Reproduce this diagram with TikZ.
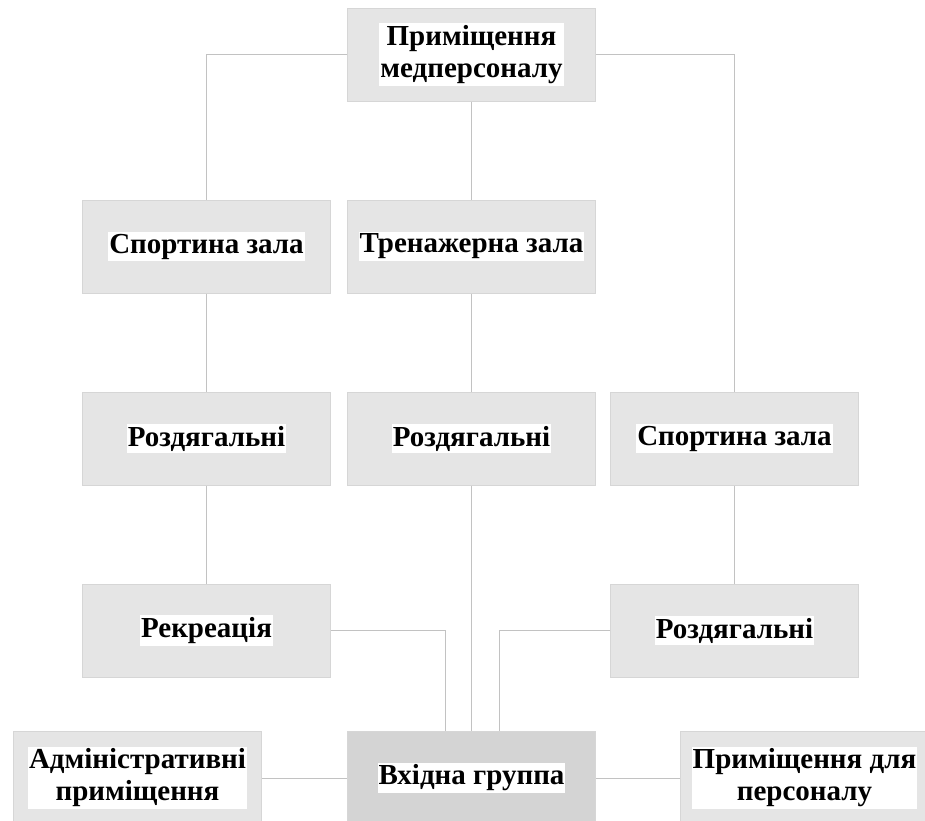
\documentclass[tikz,border=0pt]{standalone}
\usepackage{fontspec}
\setmainfont{Liberation Serif}
\usepackage{xcolor}
\usepackage{tikz}
\usetikzlibrary{positioning}

\begin{document}
\begin{tikzpicture}[
        x=1pt, y=-1pt,
        node distance=98pt and 16pt,
        room/.style={rectangle, draw=black!16, fill=#1, line width=1pt, minimum width=248pt, minimum height=93pt, inner sep=0pt},
        room/.default=black!10,
        tag/.style={fill=white, inner xsep=1pt, inner ysep=2pt, align=center, font=\bfseries\fontsize{29}{32}\selectfont},
        link/.style={draw=black!24, line width=1pt}
    ]
        \useasboundingbox (0,0) rectangle (925,820);
        \clip (0,0) rectangle (925,820);

        \node[room, label={[tag]center:{Приміщення\\медперсоналу}}] (staffmed) at (471.5,54.5) {};
        \node[room, label={[tag]center:Тренажерна зала}, below=of staffmed] (trainer) {};
        \node[room, label={[tag]center:Спортина зала}, left=of trainer] (sportA) {};
        \node[room, label={[tag]center:Роздягальні}, below=of trainer] (dressB) {};
        \node[room, label={[tag]center:Роздягальні}, below=of sportA] (dressA) {};
        \node[room, label={[tag]center:Спортина зала}, right=14pt of dressB] (sportB) {};
        \node[room, label={[tag]center:Рекреація}, below=of dressA] (recr) {};
        \node[room, label={[tag]center:Роздягальні}, below=of sportB] (dressC) {};
        \node[room=black!17, label={[tag]center:Вхідна группа}] (entry) at (471.5,778) {};
        \node[room, label={[tag]center:{Адміністративні\\приміщення}}, left=85pt of entry] (admin) {};
        \node[room, label={[tag]center:{Приміщення для\\персоналу}}, right=84pt of entry] (staff) {};

        \draw[link] (staffmed.west) -| (sportA.north);
        \draw[link] (staffmed.east) -| (sportB.north);
        \draw[link] (staffmed) -- (trainer);
        \draw[link] (sportA) -- (dressA);
        \draw[link] (trainer) -- (dressB);
        \draw[link] (dressA) -- (recr);
        \draw[link] (sportB) -- (dressC);
        \draw[link] (dressB) -- (entry);
        \draw[link] (recr.east) -| ([xshift=-26pt]entry.north);
        \draw[link] (dressC.west) -| ([xshift=27.5pt]entry.north);
        \draw[link] (admin) -- (entry);
        \draw[link] (entry) -- (staff);
    \end{tikzpicture}
\end{document}
